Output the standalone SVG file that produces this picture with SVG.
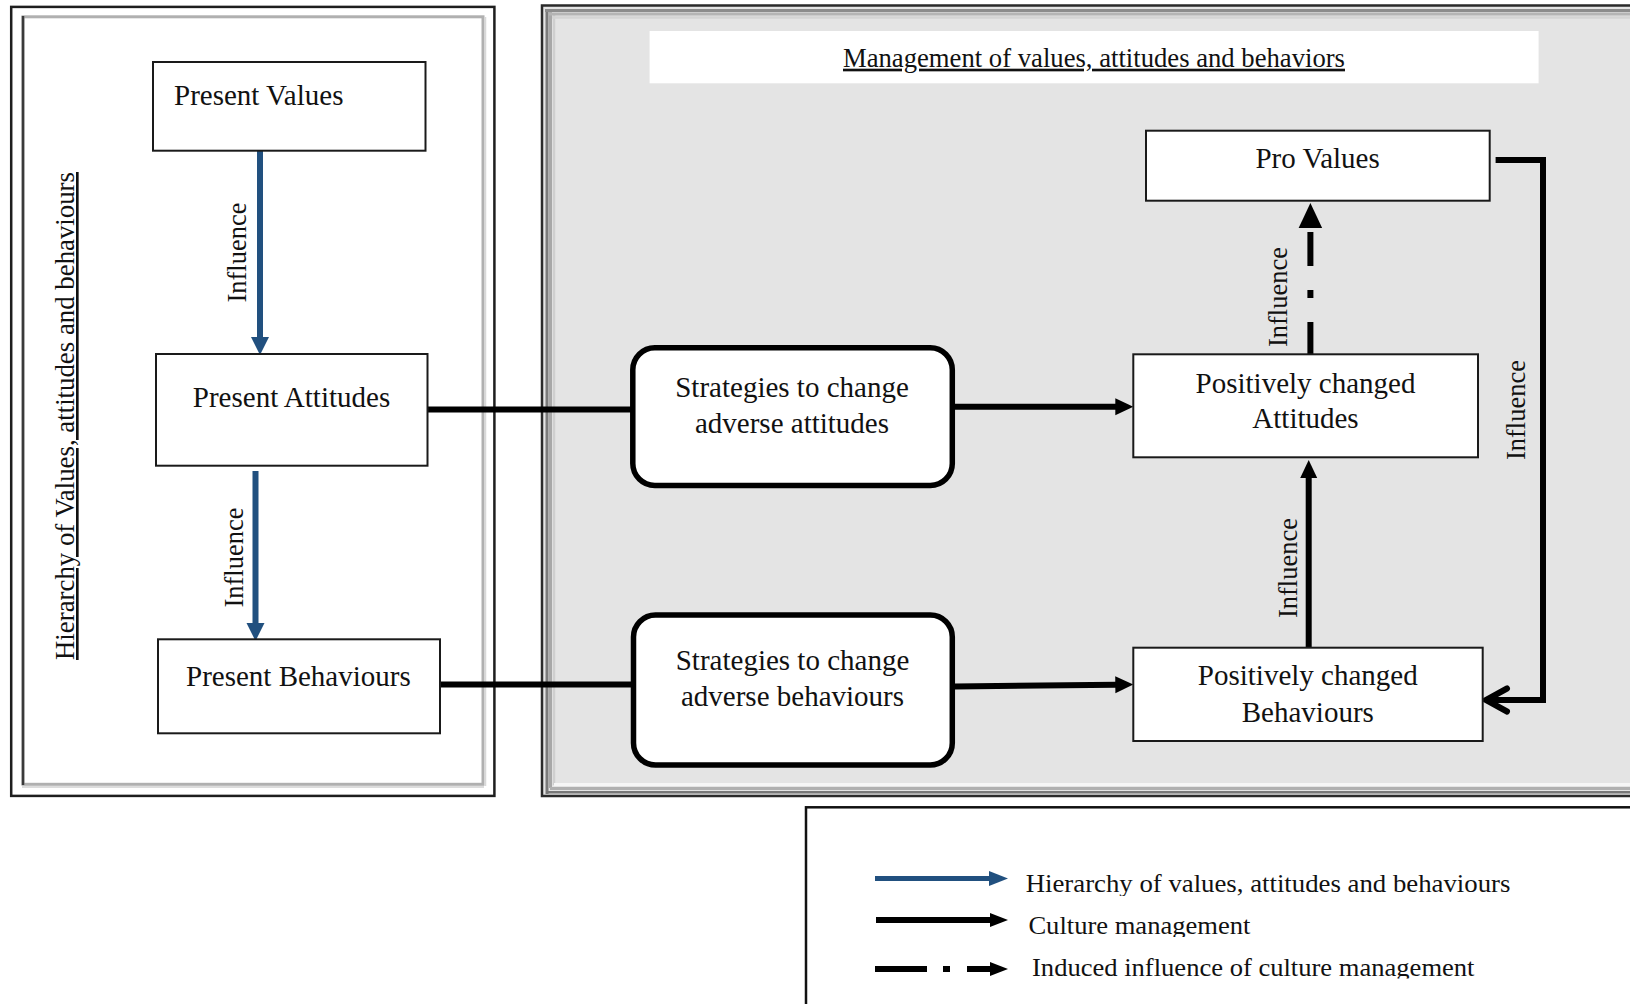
<svg xmlns="http://www.w3.org/2000/svg" width="1630" height="1004" viewBox="0 0 1630 1004">
  <style>
    text { font-family: "Liberation Serif", "Times New Roman", serif; fill: #111; }
    .node { font-size: 29px; text-anchor: middle; }
    .lbl { font-size: 26.5px; text-anchor: middle; }
    .leg { font-size: 25px; }
    .box { fill: #fff; stroke: #1a1a1a; stroke-width: 2; }
    .strat { fill: #fff; stroke: #000; stroke-width: 5.5; }
    .wire { fill: none; stroke: #000; stroke-width: 6; }
    .blue { fill: none; stroke: #21507f; stroke-width: 6; }
  </style>
  <defs>
    <marker id="head-blue" markerUnits="userSpaceOnUse" viewBox="0 -15 30 30" markerWidth="30" markerHeight="30" refX="0" refY="0" orient="auto" overflow="visible">
      <path d="M-1,-9 L17,0 L-1,9 z" fill="#21507f"/>
    </marker>
    <marker id="head-black" markerUnits="userSpaceOnUse" viewBox="0 -15 30 30" markerWidth="30" markerHeight="30" refX="0" refY="0" orient="auto" overflow="visible">
      <path d="M-1,-8.5 L17,0 L-1,8.5 z" fill="#000"/>
    </marker>
    <marker id="head-big" markerUnits="userSpaceOnUse" viewBox="0 -15 30 30" markerWidth="30" markerHeight="30" refX="0" refY="0" orient="auto" overflow="visible">
      <path d="M-1,-11.75 L24,0 L-1,11.75 z" fill="#000"/>
    </marker>
    <marker id="head-leg-blue" markerUnits="userSpaceOnUse" viewBox="0 -15 30 30" markerWidth="30" markerHeight="30" refX="0" refY="0" orient="auto" overflow="visible">
      <path d="M-1,-7.5 L18,0 L-1,7.5 z" fill="#21507f"/>
    </marker>
    <marker id="head-leg" markerUnits="userSpaceOnUse" viewBox="0 -15 30 30" markerWidth="30" markerHeight="30" refX="0" refY="0" orient="auto" overflow="visible">
      <path d="M-1,-7 L17,0 L-1,7 z" fill="#000"/>
    </marker>
    <marker id="chevron" markerUnits="userSpaceOnUse" viewBox="-30 -15 30 30" markerWidth="30" markerHeight="30" refX="0" refY="0" orient="auto" overflow="visible">
      <path d="M-21,-11.5 L0,0 L-21,11.5" fill="none" stroke="#000" stroke-width="6" stroke-linecap="round"/>
    </marker>
    <clipPath id="clip-leg1"><rect x="1000" y="860" width="560" height="36"/></clipPath>
    <clipPath id="clip-leg2"><rect x="1000" y="905" width="560" height="32"/></clipPath>
    <clipPath id="clip-leg3"><rect x="1000" y="945" width="560" height="33.5"/></clipPath>
  </defs>

  <rect width="1630" height="1004" fill="#fff"/>

  <!-- left panel: hierarchy frame -->
  <g id="panel-hierarchy">
    <rect x="11.2" y="6.9" width="483.2" height="789" fill="#fff" stroke="#1e1e1e" stroke-width="2.5"/>
    <rect x="23" y="16.8" width="460" height="767.5" fill="none" stroke="#b0b0b0" stroke-width="3"/>
    <line x1="23" y1="16" x2="23" y2="785" stroke="#3a3a3a" stroke-width="2.5"/>
    <line x1="22" y1="787" x2="484" y2="787" stroke="#dcdcdc" stroke-width="2"/>
    <line x1="485.5" y1="17" x2="485.5" y2="786" stroke="#d8d8d8" stroke-width="1.5"/>
    <text transform="translate(74,416) rotate(-90)" class="lbl" text-decoration="underline" textLength="488" lengthAdjust="spacingAndGlyphs">Hierarchy of Values, attitudes and behaviours</text>
  </g>

  <!-- right panel: management frame -->
  <g id="panel-management">
    <rect x="542" y="5.5" width="1120" height="790.5" fill="#e4e4e4" stroke="#2a2a2a" stroke-width="2.5"/>
    <line x1="547" y1="9" x2="547" y2="794" stroke="#7a7a7a" stroke-width="3"/>
    <line x1="550.5" y1="12" x2="550.5" y2="788" stroke="#a8a8a8" stroke-width="3"/>
    <line x1="554" y1="15" x2="554" y2="785" stroke="#cfcfcf" stroke-width="2.5"/>
    <line x1="545" y1="10.5" x2="1630" y2="10.5" stroke="#8c8c8c" stroke-width="3"/>
    <line x1="549" y1="14" x2="1630" y2="14" stroke="#b4b4b4" stroke-width="3"/>
    <line x1="552" y1="17.5" x2="1630" y2="17.5" stroke="#d4d4d4" stroke-width="2.5"/>
    <line x1="554" y1="784.5" x2="1630" y2="784.5" stroke="#f6f6f6" stroke-width="3"/>
    <line x1="550" y1="788.5" x2="1630" y2="788.5" stroke="#b0b0b0" stroke-width="3"/>
    <line x1="546" y1="792.2" x2="1630" y2="792.2" stroke="#777" stroke-width="2.5"/>
    <rect x="649.6" y="31" width="889" height="52.3" fill="#fff"/>
    <text x="1094" y="66.7" font-size="26.5" text-anchor="middle" text-decoration="underline" textLength="502" lengthAdjust="spacingAndGlyphs">Management of values, attitudes and behaviors</text>
  </g>

  <!-- connectors -->
  <g id="connectors">
    <path class="blue" d="M260,151 V338" marker-end="url(#head-blue)"/>
    <path class="blue" d="M255.5,471 V624" marker-end="url(#head-blue)"/>
    <path class="wire" d="M427.5,409.5 H632"/>
    <path class="wire" d="M440,684.5 H632"/>
    <path class="wire" d="M955,406.7 H1116.3" marker-end="url(#head-black)"/>
    <path class="wire" d="M955,686.5 L1116.3,684.7" marker-end="url(#head-black)"/>
    <path class="wire" d="M1308.7,648 V477" marker-end="url(#head-black)"/>
    <path class="wire" d="M1310.4,354 V227" stroke-width="7.5" stroke-dasharray="32 24 8 24 34 100" marker-end="url(#head-big)"/>
    <path class="wire" d="M1495.6,160 H1543 V700 H1486" marker-end="url(#chevron)"/>
    <text transform="translate(246,252.5) rotate(-90)" class="lbl">Influence</text>
    <text transform="translate(243,557.5) rotate(-90)" class="lbl">Influence</text>
    <text transform="translate(1287,297) rotate(-90)" class="lbl">Influence</text>
    <text transform="translate(1297,568) rotate(-90)" class="lbl">Influence</text>
    <text transform="translate(1525,410) rotate(-90)" class="lbl">Influence</text>
  </g>

  <g id="present-values">
    <rect class="box" x="153" y="62" width="272.5" height="88.7"/>
    <text x="174" y="105" font-size="29">Present Values</text>
  </g>
  <g id="present-attitudes">
    <rect class="box" x="156" y="354" width="271.5" height="111.7"/>
    <text x="291.5" y="407.3" class="node">Present Attitudes</text>
  </g>
  <g id="present-behaviours">
    <rect class="box" x="158" y="639.3" width="282" height="94"/>
    <text x="298.4" y="686" class="node">Present Behaviours</text>
  </g>
  <g id="strategies-attitudes">
    <rect class="strat" x="632.8" y="347.8" width="319.5" height="137.7" rx="22"/>
    <text x="792" y="396.7" class="node">Strategies to change</text>
    <text x="792" y="433.3" class="node">adverse attitudes</text>
  </g>
  <g id="strategies-behaviours">
    <rect class="strat" x="633.5" y="615" width="318.8" height="150" rx="22"/>
    <text x="792.5" y="670" class="node">Strategies to change</text>
    <text x="792.5" y="706" class="node">adverse behaviours</text>
  </g>
  <g id="pro-values">
    <rect class="box" x="1146" y="130.7" width="343.7" height="70"/>
    <text x="1317.6" y="168.3" class="node">Pro Values</text>
  </g>
  <g id="changed-attitudes">
    <rect class="box" x="1133.3" y="354.3" width="344.7" height="103"/>
    <text x="1305.5" y="392.7" class="node">Positively changed</text>
    <text x="1305.5" y="428.3" class="node">Attitudes</text>
  </g>
  <g id="changed-behaviours">
    <rect class="box" x="1133.3" y="647.7" width="349.4" height="93.3"/>
    <text x="1307.8" y="685" class="node">Positively changed</text>
    <text x="1307.8" y="721.7" class="node">Behaviours</text>
  </g>

  <!-- legend -->
  <g id="legend">
    <rect x="806" y="807.3" width="900" height="300" fill="#fff" stroke="#111" stroke-width="2.5"/>
    <path d="M875,878.5 H990" fill="none" stroke="#21507f" stroke-width="5" marker-end="url(#head-leg-blue)"/>
    <path d="M876,920 H991" fill="none" stroke="#000" stroke-width="6" marker-end="url(#head-leg)"/>
    <path d="M875,969 H991" fill="none" stroke="#000" stroke-width="6" stroke-dasharray="52 16 7 17 40" marker-end="url(#head-leg)"/>
    <text x="1025.7" y="891.7" class="leg" textLength="484.7" lengthAdjust="spacingAndGlyphs" clip-path="url(#clip-leg1)">Hierarchy of values, attitudes and behaviours</text>
    <text x="1028.4" y="934" class="leg" textLength="222" lengthAdjust="spacingAndGlyphs" clip-path="url(#clip-leg2)">Culture management</text>
    <text x="1032" y="976" class="leg" textLength="442.5" lengthAdjust="spacingAndGlyphs" clip-path="url(#clip-leg3)">Induced influence of culture management</text>
  </g>
</svg>
